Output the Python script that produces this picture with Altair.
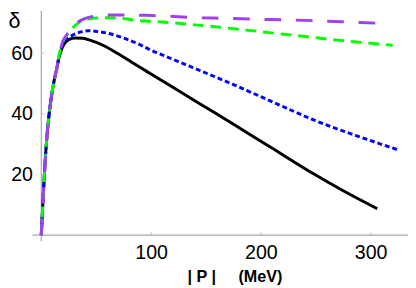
import altair as alt
import pandas as pd

FONT = "Liberation Sans"
GRAY = "#a8a8a8"

x_ticks = [100, 200, 300]
y_ticks = [20, 40, 60]

rise_p = [0, 1, 2, 3, 4, 5, 6, 7, 8, 10, 12, 14]
rise_d = [0, 7.5, 14.5, 21, 27, 32, 36, 39.5, 42.5, 47.5, 51.5, 54.8]

black_p = rise_p + [16, 18, 20, 22, 25, 31, 38, 45, 58, 70, 82, 96, 115, 135, 155, 174, 193, 212, 230, 248, 275, 306]
black_d = rise_d + [58.3, 60.8, 62.5, 63.6, 64.5, 65.0, 64.9, 64.2, 62.3, 59.8, 57.1, 54.0, 49.8, 45.4, 41.0, 36.8, 32.5, 28.3, 24.2, 20.2, 14.6, 8.7]

blue_p = rise_p + [16, 18, 20, 22, 25, 28, 37, 43, 52, 60, 72.6, 87.5, 100, 115, 135, 174, 212, 248, 290, 325]
blue_d = rise_d + [58.6, 61.2, 63.0, 64.2, 65.1, 65.8, 67.1, 67.4, 67.1, 66.6, 65.3, 63.2, 61.0, 58.7, 55.7, 49.8, 43.7, 38.0, 32.4, 28.1]

green_p = rise_p + [16, 18, 20, 23, 26.5, 31, 37, 43, 50, 60, 70, 87.5, 100, 120, 150, 180, 212, 240, 270, 300, 320]
green_d = rise_d + [59, 62, 64, 65.8, 67.4, 69.2, 70.7, 71.3, 71.6, 71.7, 71.6, 70.8, 70.5, 70.0, 69.0, 67.9, 66.6, 65.5, 64.3, 63.3, 62.6]

purple_p = rise_p + [16, 18, 20, 23, 26.5, 31, 37, 43, 50, 60, 75, 94, 110, 141, 169, 196, 222, 250, 278, 305, 313]
purple_d = rise_d + [59, 62, 64.2, 66, 67.6, 69.5, 71.0, 71.8, 72.3, 72.6, 72.6, 72.5, 72.3, 71.7, 71.5, 71.2, 71.0, 70.7, 70.3, 69.9, 69.8]

W, H = 383, 235

x_scale = alt.Scale(domain=[-8, 334], nice=False, zero=False)
y_scale = alt.Scale(domain=[-2, 74], nice=False, zero=False)

x_axis = alt.Axis(values=x_ticks, domain=False, ticks=False, grid=False,
                  labelFont=FONT, labelFontSize=20, labelColor="black", labelPadding=2,
                  title="| P |\u00a0\u00a0\u00a0\u00a0\u00a0(MeV)", titleFont=FONT, titleFontSize=16.5,
                  titleFontWeight="bold", titleColor="black", titleX=206, titleY=41,
                  titleAlign="center", titleBaseline="alphabetic")
y_axis = alt.Axis(values=y_ticks, domain=False, ticks=False, grid=False,
                  labelFont=FONT, labelFontSize=20, labelColor="black", labelPadding=0,
                  title="δ", titleFont=FONT, titleFontSize=22, titleFontWeight="normal",
                  titleColor="black", titleAngle=0, titleX=-25, titleY=17,
                  titleAlign="left", titleBaseline="alphabetic")


def enc(chart):
    return chart.encode(x=alt.X("p:Q", scale=x_scale, axis=x_axis),
                        y=alt.Y("d:Q", scale=y_scale, axis=y_axis))


origin = pd.DataFrame({"p": [0], "d": [0]})
yline = alt.Chart(origin).mark_rule(color=GRAY, strokeWidth=1.2).encode(
    x=alt.X("p:Q", scale=x_scale, axis=x_axis), y=alt.value(0), y2=alt.value(H))
xline = alt.Chart(origin).mark_rule(color=GRAY, strokeWidth=1.2).encode(
    y=alt.Y("d:Q", scale=y_scale, axis=y_axis), x=alt.value(0), x2=alt.value(W))

xt = enc(alt.Chart(pd.DataFrame({"p": x_ticks, "d": [0] * len(x_ticks)})).mark_tick(
    orient="vertical", size=3, thickness=1, color=GRAY, yOffset=-1.5))
yt = enc(alt.Chart(pd.DataFrame({"p": [0] * len(y_ticks), "d": y_ticks})).mark_tick(
    orient="horizontal", size=3, thickness=1, color=GRAY, xOffset=1.5))


def line(xs, ys, color, dash=None):
    kw = dict(color=color, strokeWidth=3, interpolate="monotone")
    if dash:
        kw["strokeDash"] = dash
    return enc(alt.Chart(pd.DataFrame({"p": xs, "d": ys})).mark_line(**kw))


chart = alt.layer(
    yline, xline, xt, yt,
    line(black_p, black_d, "black"),
    line(blue_p, blue_d, "#0000ff", [5, 3]),
    line(green_p, green_d, "#00ff00", [11, 7]),
    line(purple_p, purple_d, "#a040f0", [17, 15]),
).properties(
    width=W, height=H,
    autosize=alt.AutoSizeParams(type="none"),
    padding={"left": 25, "top": 0, "right": 0, "bottom": 45},
).configure_view(stroke=None)

chart.save("out.html", embed_options={"renderer": "svg", "actions": False})
